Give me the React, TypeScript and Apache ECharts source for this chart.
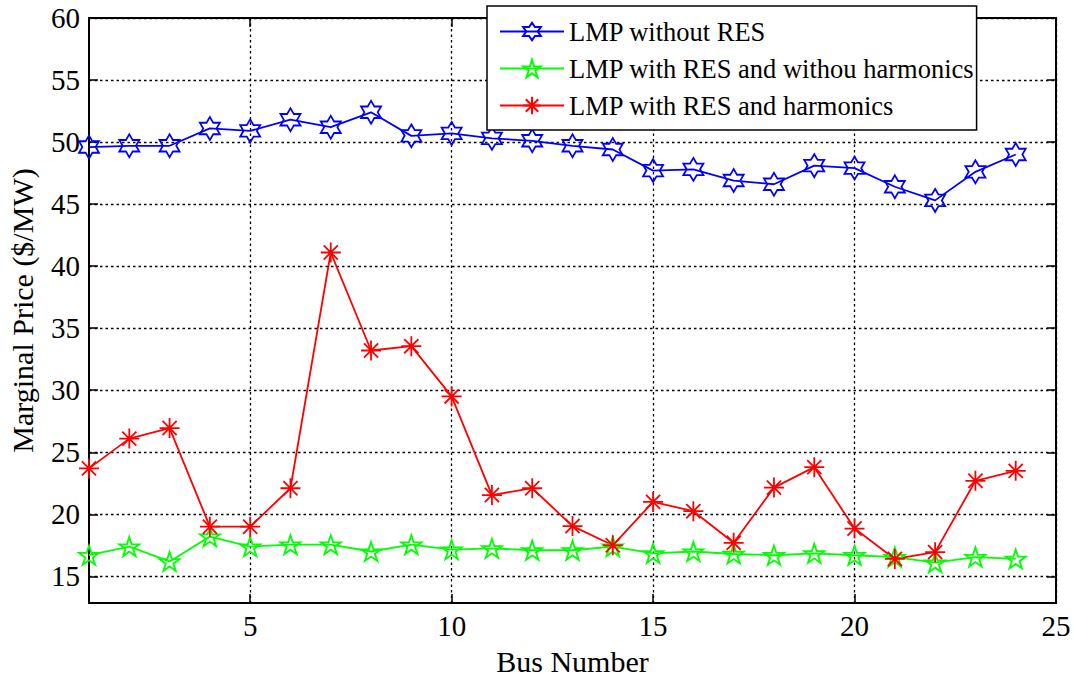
import React, { useEffect, useRef } from "react";
import * as echarts from "echarts";

// Bus indices on the horizontal axis
const busNumbers = [1, 2, 3, 4, 5, 6, 7, 8, 9, 10, 11, 12, 13, 14, 15, 16, 17, 18, 19, 20, 21, 22, 23, 24];

// Locational marginal prices ($/MW)
const lmpWithoutRes = [
  49.6, 49.7, 49.7, 51.1, 50.9, 51.8, 51.2, 52.4, 50.5, 50.7, 50.3, 50.1,
  49.7, 49.4, 47.7, 47.8, 46.9, 46.6, 48.1, 47.9, 46.4, 45.3, 47.6, 49.0,
];
const lmpResNoHarmonics = [
  16.7, 17.4, 16.2, 18.2, 17.4, 17.55, 17.55, 17.0, 17.55, 17.15, 17.25, 17.1,
  17.1, 17.4, 16.85, 17.0, 16.8, 16.7, 16.85, 16.7, 16.55, 16.1, 16.55, 16.4,
];
const lmpResHarmonics = [
  23.7, 26.1, 26.95, 19.0, 19.0, 22.1, 41.1, 33.2, 33.55, 29.5, 21.55, 22.1,
  19.05, 17.5, 21.0, 20.25, 17.7, 22.15, 23.8, 18.85, 16.4, 16.95, 22.7, 23.5,
];

const seriesNames = [
  "LMP without RES",
  "LMP with RES and withou harmonics",
  "LMP with RES and harmonics",
];

// Axis tick values
const xTickValues = [5, 10, 15, 20, 25];
const yTickValues = [15, 20, 25, 30, 35, 40, 45, 50, 55, 60];

// Marker outlines
const hexagramPath =
  "path://M0,-100 L28.87,-50 L86.6,-50 L57.7,0 L86.6,50 L28.87,50 L0,100 L-28.87,50 L-86.6,50 L-57.7,0 L-86.6,-50 L-28.87,-50 Z";
const pentagramPath =
  "path://M0,-100 L22.45,-30.9 L95.1,-30.9 L36.3,11.8 L58.8,80.9 L0,38.2 L-58.8,80.9 L-36.3,11.8 L-95.1,-30.9 L-22.45,-30.9 Z";
const asteriskPath =
  "path://M0,-100 L0,100 M-100,0 L100,0 M-70.7,-70.7 L70.7,70.7 M-70.7,70.7 L70.7,-70.7";

const FONT = "'Liberation Serif', 'Times New Roman', serif";

const toPoints = (values: number[]) => busNumbers.map((b, i) => [b, values[i]]);

export default function App() {
  const ref = useRef<HTMLDivElement>(null);

  useEffect(() => {
    if (!ref.current) return;
    const chart = echarts.init(ref.current, undefined, { renderer: "svg" });

    const gridLine = { show: true, lineStyle: { color: "#000", width: 1.3, type: [2.5, 3] as any } };
    const axisLine = { show: true, onZero: false, lineStyle: { color: "#000", width: 2 } };
    const tick = { show: true, inside: true, length: 9, lineStyle: { color: "#000", width: 1.5 } };

    const makeSeries = (
      name: string,
      values: number[],
      color: string,
      symbol: string,
      size: number[]
    ) => ({
      name,
      type: "line",
      data: toPoints(values),
      symbol,
      symbolSize: size,
      showAllSymbol: true,
      lineStyle: { color, width: 1.8 },
      itemStyle: { color: "rgba(255,255,255,0)", borderColor: color, borderWidth: 1.8 },
      emphasis: { disabled: true },
      z: 3,
    });

    chart.setOption({
      animation: false,
      backgroundColor: "#fff",
      textStyle: { fontFamily: FONT },
      grid: { left: 89, right: 17, top: 18, bottom: 76, outerBoundsMode: "none" },
      legend: {
        left: 487,
        top: 6,
        orient: "vertical",
        itemWidth: 64,
        itemHeight: 22,
        itemGap: 10,
        padding: [12, 2, 11, 12],
        borderColor: "#000",
        borderWidth: 1.5,
        borderRadius: 0,
        backgroundColor: "#fff",
        textStyle: { fontFamily: FONT, fontSize: 26.5, color: "#000", lineHeight: 26 },
        data: seriesNames,
        z: 10,
      },
      xAxis: [
        {
          type: "value",
          min: 1,
          max: 25,
          name: "Bus Number",
          nameLocation: "middle",
          nameGap: 43,
          nameTextStyle: { fontFamily: FONT, fontSize: 30, color: "#000" },
          axisLine,
          axisTick: { ...tick, customValues: xTickValues },
          axisLabel: {
            customValues: xTickValues,
            fontFamily: FONT,
            fontSize: 29,
            color: "#000",
            margin: 8,
          },
          splitLine: gridLine,
        },
        {
          type: "value",
          position: "top",
          min: 1,
          max: 25,
          axisLine,
          axisTick: { ...tick, customValues: xTickValues },
          axisLabel: { show: false },
          splitLine: { show: false },
        },
      ],
      yAxis: [
        {
          type: "value",
          min: 12.85,
          max: 60,
          name: "Marginal Price ($/MW)",
          nameLocation: "middle",
          nameRotate: 90,
          nameGap: 52,
          nameTextStyle: { fontFamily: FONT, fontSize: 30, color: "#000" },
          axisLine,
          axisTick: { ...tick, customValues: yTickValues },
          axisLabel: {
            customValues: yTickValues,
            fontFamily: FONT,
            fontSize: 29,
            color: "#000",
            margin: 9,
          },
          splitLine: gridLine,
        },
        {
          type: "value",
          position: "right",
          min: 12.85,
          max: 60,
          axisLine,
          axisTick: { ...tick, customValues: yTickValues },
          axisLabel: { show: false },
          splitLine: { show: false },
        },
      ],
      series: [
        makeSeries(seriesNames[0], lmpWithoutRes, "#0000ff", hexagramPath, [20, 23]),
        makeSeries(seriesNames[1], lmpResNoHarmonics, "#00ff00", pentagramPath, [20, 19]),
        makeSeries(seriesNames[2], lmpResHarmonics, "#ff0000", asteriskPath, [20, 20]),
      ],
    });

    return () => chart.dispose();
  }, []);

  return (
    <div
      ref={ref}
      style={{ position: "fixed", left: 0, top: 0, width: 1073, height: 679, background: "#fff" }}
    />
  );
}
